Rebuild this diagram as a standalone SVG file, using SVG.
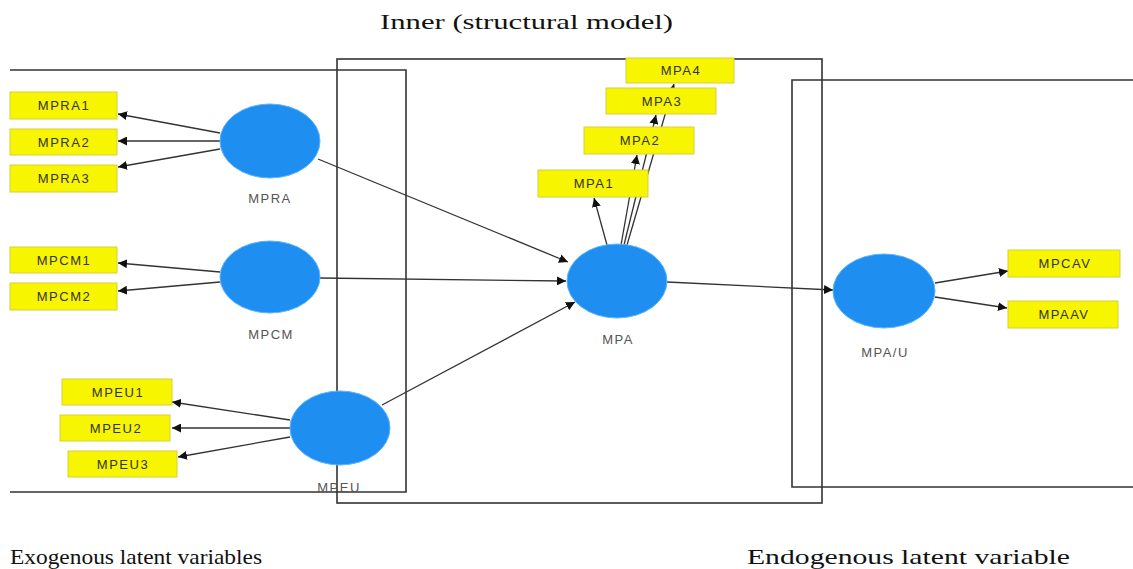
<svg xmlns="http://www.w3.org/2000/svg" width="1133" height="569" viewBox="0 0 1133 569">
  <defs>
    <marker id="arr" viewBox="0 0 10 10" refX="10" refY="5" markerWidth="9" markerHeight="9" markerUnits="userSpaceOnUse" orient="auto">
      <path d="M0,0 L10,5 L0,10 z" fill="#111"/>
    </marker>
    <style>
      .frame { fill: none; stroke: #333; stroke-width: 1.6; }
      .edge { stroke: #333; stroke-width: 1.3; fill: none; marker-end: url(#arr); }
      .lv { fill: #1e8ff0; stroke: #5ab4ff; stroke-width: 1; }
      .mv { fill: #f7f500; stroke: #d8cf3a; stroke-width: 1; }
      .mvt { font-family: "Liberation Sans", Arial, sans-serif; font-size: 13px; letter-spacing: 1.5px; fill: #333; text-anchor: middle; dominant-baseline: central; }
      .lvt { font-family: "Liberation Sans", Arial, sans-serif; font-size: 13px; letter-spacing: 1.5px; fill: #555; text-anchor: middle; dominant-baseline: central; }
      .cap { font-family: "Liberation Serif", "Times New Roman", serif; font-size: 22px; fill: #111; }
    </style>
  </defs>

  <rect width="1133" height="569" fill="#fff"/>

  <!-- region frames -->
  <g id="frames">
    <polyline class="frame" points="10,70 406,70 406,492 10,492"/>
    <rect class="frame" x="337" y="59" width="485" height="444"/>
    <polyline class="frame" points="1140,80 792,80 792,487 1140,487"/>
  </g>

  <!-- connectors -->
  <g id="connectors">
    <line class="edge" x1="220" y1="133" x2="118" y2="114"/>
    <line class="edge" x1="220" y1="141" x2="118" y2="141"/>
    <line class="edge" x1="220" y1="149" x2="118" y2="167"/>
    <line class="edge" x1="318" y1="159" x2="568" y2="262"/>

    <line class="edge" x1="220" y1="272" x2="118" y2="263"/>
    <line class="edge" x1="220" y1="282" x2="118" y2="291"/>
    <line class="edge" x1="320" y1="278" x2="566" y2="281"/>

    <line class="edge" x1="290" y1="420" x2="172" y2="402"/>
    <line class="edge" x1="290" y1="428" x2="172" y2="428"/>
    <line class="edge" x1="290" y1="437" x2="178" y2="457"/>
    <line class="edge" x1="382" y1="405" x2="575" y2="302"/>

    <line class="edge" x1="607" y1="245" x2="594" y2="198"/>
    <line class="edge" x1="621" y1="245" x2="637" y2="155"/>
    <line class="edge" x1="624" y1="245" x2="656" y2="115"/>
    <line class="edge" x1="627" y1="245" x2="674" y2="84"/>

    <line class="edge" x1="667" y1="282" x2="833" y2="290"/>
    <line class="edge" x1="935" y1="283" x2="1008" y2="271"/>
    <line class="edge" x1="935" y1="297" x2="1007" y2="308"/>
  </g>

  <!-- latent variables -->
  <g id="MPRA">
    <ellipse class="lv" cx="270" cy="141" rx="50" ry="37"/>
    <text class="lvt" x="270" y="198">MPRA</text>
  </g>
  <g id="MPCM">
    <ellipse class="lv" cx="270" cy="277" rx="50" ry="36"/>
    <text class="lvt" x="271" y="334">MPCM</text>
  </g>
  <g id="MPEU">
    <ellipse class="lv" cx="340" cy="428" rx="50" ry="37"/>
    <text class="lvt" x="339" y="487">MPEU</text>
  </g>
  <g id="MPA">
    <ellipse class="lv" cx="617" cy="281" rx="50" ry="37"/>
    <text class="lvt" x="618" y="339">MPA</text>
  </g>
  <g id="MPA-U">
    <ellipse class="lv" cx="884" cy="291" rx="51" ry="37"/>
    <text class="lvt" x="885" y="352">MPA/U</text>
  </g>

  <!-- indicators -->
  <g id="MPRA1"><rect class="mv" x="10" y="92" width="107" height="27"/><text class="mvt" x="64" y="105.5">MPRA1</text></g>
  <g id="MPRA2"><rect class="mv" x="10" y="129" width="107" height="26"/><text class="mvt" x="64" y="142">MPRA2</text></g>
  <g id="MPRA3"><rect class="mv" x="10" y="165" width="107" height="27"/><text class="mvt" x="64" y="178.5">MPRA3</text></g>

  <g id="MPCM1"><rect class="mv" x="10" y="247" width="107" height="26"/><text class="mvt" x="64" y="260">MPCM1</text></g>
  <g id="MPCM2"><rect class="mv" x="10" y="283" width="107" height="27"/><text class="mvt" x="64" y="296.5">MPCM2</text></g>

  <g id="MPEU1"><rect class="mv" x="62" y="379" width="110" height="26"/><text class="mvt" x="118" y="392">MPEU1</text></g>
  <g id="MPEU2"><rect class="mv" x="60" y="415" width="110" height="26"/><text class="mvt" x="116" y="428">MPEU2</text></g>
  <g id="MPEU3"><rect class="mv" x="68" y="451" width="109" height="26"/><text class="mvt" x="123" y="464">MPEU3</text></g>

  <g id="MPA1"><rect class="mv" x="538" y="170" width="110" height="27"/><text class="mvt" x="594" y="183.5">MPA1</text></g>
  <g id="MPA2"><rect class="mv" x="584" y="127" width="110" height="27"/><text class="mvt" x="640" y="140.5">MPA2</text></g>
  <g id="MPA3"><rect class="mv" x="606" y="88" width="110" height="26"/><text class="mvt" x="662" y="101">MPA3</text></g>
  <g id="MPA4"><rect class="mv" x="626" y="58" width="108" height="25"/><text class="mvt" x="681" y="70.5">MPA4</text></g>

  <g id="MPCAV"><rect class="mv" x="1008" y="250" width="112" height="27"/><text class="mvt" x="1065" y="263.5">MPCAV</text></g>
  <g id="MPAAV"><rect class="mv" x="1008" y="301" width="110" height="27"/><text class="mvt" x="1064" y="314.5">MPAAV</text></g>

  <!-- captions -->
  <g id="captions">
    <text class="cap" x="380" y="29" textLength="293" lengthAdjust="spacingAndGlyphs">Inner (structural model)</text>
    <text class="cap" x="10" y="564" textLength="252" lengthAdjust="spacingAndGlyphs">Exogenous latent variables</text>
    <text class="cap" x="747" y="564" textLength="323" lengthAdjust="spacingAndGlyphs">Endogenous latent variable</text>
  </g>
</svg>
